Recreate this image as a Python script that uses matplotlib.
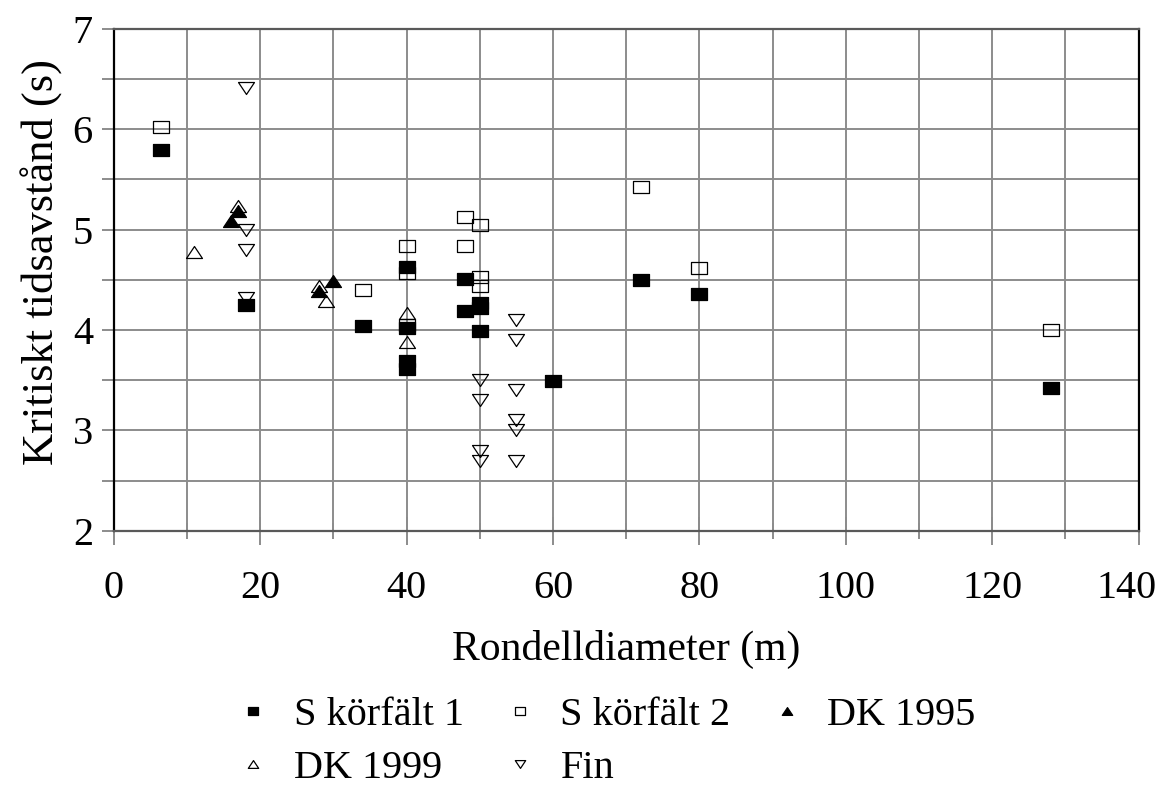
import matplotlib
matplotlib.use("Agg")
import matplotlib.pyplot as plt
from matplotlib.path import Path
from matplotlib.ticker import MultipleLocator
from matplotlib.transforms import ScaledTranslation

plt.rcParams["font.family"] = ["Liberation Serif", "DejaVu Serif"]

# diameter (m) and critical gap (s) per data source
s1_x = [6.4, 18, 34, 40, 40, 40, 40, 48, 48, 50, 50, 50, 60, 72, 80, 128]
s1_y = [5.79, 4.25, 4.04, 4.63, 4.02, 3.69, 3.61, 4.51, 4.19, 4.27, 4.22, 3.99, 3.49, 4.50, 4.36, 3.42]

s2_x = [6.4, 34, 40, 40, 40, 48, 48, 50, 50, 50, 72, 80, 128]
s2_y = [6.02, 4.40, 4.84, 4.57, 4.05, 5.13, 4.84, 5.05, 4.53, 4.44, 5.43, 4.62, 4.00]

dk95_x = [16, 17, 28, 30]
dk95_y = [5.09, 5.19, 4.39, 4.49]

dk99_x = [11, 17, 28, 29, 40, 40]
dk99_y = [4.78, 5.24, 4.44, 4.29, 4.17, 3.88]

fin_x = [18, 18, 18, 18, 50, 50, 50, 50, 55, 55, 55, 55, 55, 55]
fin_y = [6.41, 5.00, 4.80, 4.32, 3.50, 3.30, 2.80, 2.70, 4.10, 3.90, 3.40, 3.10, 3.00, 2.70]

labels = ["S körfält 1", "S körfält 2", "DK 1995", "DK 1999", "Fin"]
x_ticks = [0, 20, 40, 60, 80, 100, 120, 140]

# slightly wide marker shapes
box = Path([(-1, -0.75), (1, -0.75), (1, 0.75), (-1, 0.75), (-1, -0.75)],
           [Path.MOVETO, Path.LINETO, Path.LINETO, Path.LINETO, Path.CLOSEPOLY])
tri_up = Path([(0, 0.75), (-1, -0.75), (1, -0.75), (0, 0.75)],
              [Path.MOVETO, Path.LINETO, Path.LINETO, Path.CLOSEPOLY])
tri_dn = Path([(0, -0.75), (-1, 0.75), (1, 0.75), (0, -0.75)],
              [Path.MOVETO, Path.LINETO, Path.LINETO, Path.CLOSEPOLY])

fig = plt.figure(figsize=(11.66, 7.85), dpi=100)
ax = fig.add_axes([0.0976, 0.3237, 0.8789, 0.6395])

ms = 11.5
series = [
    (s1_x, s1_y, box, "black"),
    (s2_x, s2_y, box, "none"),
    (dk95_x, dk95_y, tri_up, "black"),
    (dk99_x, dk99_y, tri_up, "none"),
    (fin_x, fin_y, tri_dn, "none"),
]
handles = []
for (xs, ys, mk, fc), lab in zip(series, labels):
    h, = ax.plot(xs, ys, linestyle="none", marker=mk, markersize=ms,
                 markerfacecolor=fc, markeredgecolor="black",
                 markeredgewidth=0.9, label=lab, zorder=3)
    handles.append(h)

ax.set_xlim(0, 140)
ax.set_ylim(2, 7)
ax.set_xticks(x_ticks)
ax.xaxis.set_minor_locator(MultipleLocator(10))
ax.yaxis.set_major_locator(MultipleLocator(1))
ax.yaxis.set_minor_locator(MultipleLocator(0.5))

ax.grid(True, which="both", color="#8c8c8c", linewidth=1.4)
ax.set_axisbelow(True)

for side in ["left", "right"]:
    ax.spines[side].set_color("black")
    ax.spines[side].set_linewidth(1.6)
for side in ["top", "bottom"]:
    ax.spines[side].set_color("#595959")
    ax.spines[side].set_linewidth(1.6)

ax.tick_params(axis="x", which="major", direction="inout", length=20,
               color="#8c8c8c", width=1.4, labelsize=29, pad=18)
ax.tick_params(axis="x", which="minor", direction="inout", length=12,
               color="#8c8c8c", width=1.4)
ax.tick_params(axis="y", which="both", direction="out", length=9,
               color="#8c8c8c", width=1.4, labelsize=29, pad=6)

ax.set_xlabel("Rondelldiameter (m)", fontsize=30, labelpad=17)
ax.set_ylabel("Kritiskt tidsavstånd (s)", fontsize=32)
ax.yaxis.set_label_coords(-0.05, 0.535)

# legend filled row by row: three entries on top, two below
order = [0, 3, 1, 4, 2]
fig.legend([handles[i] for i in order], [labels[i] for i in order],
           ncol=3, loc="upper left", bbox_to_anchor=(0.169, 0.158),
           frameon=False, fontsize=29, markerscale=0.65,
           handlelength=1.0, handletextpad=0.5, columnspacing=0.9,
           labelspacing=0.38)

# keep the last x tick label inside the figure
fig.canvas.draw()
for tick in ax.xaxis.get_major_ticks():
    if tick.get_loc() == x_ticks[-1]:
        lab = tick.label1
        lab.set_transform(lab.get_transform()
                          + ScaledTranslation(-0.12, 0, fig.dpi_scale_trans))

fig.savefig("out.png", dpi=100)
